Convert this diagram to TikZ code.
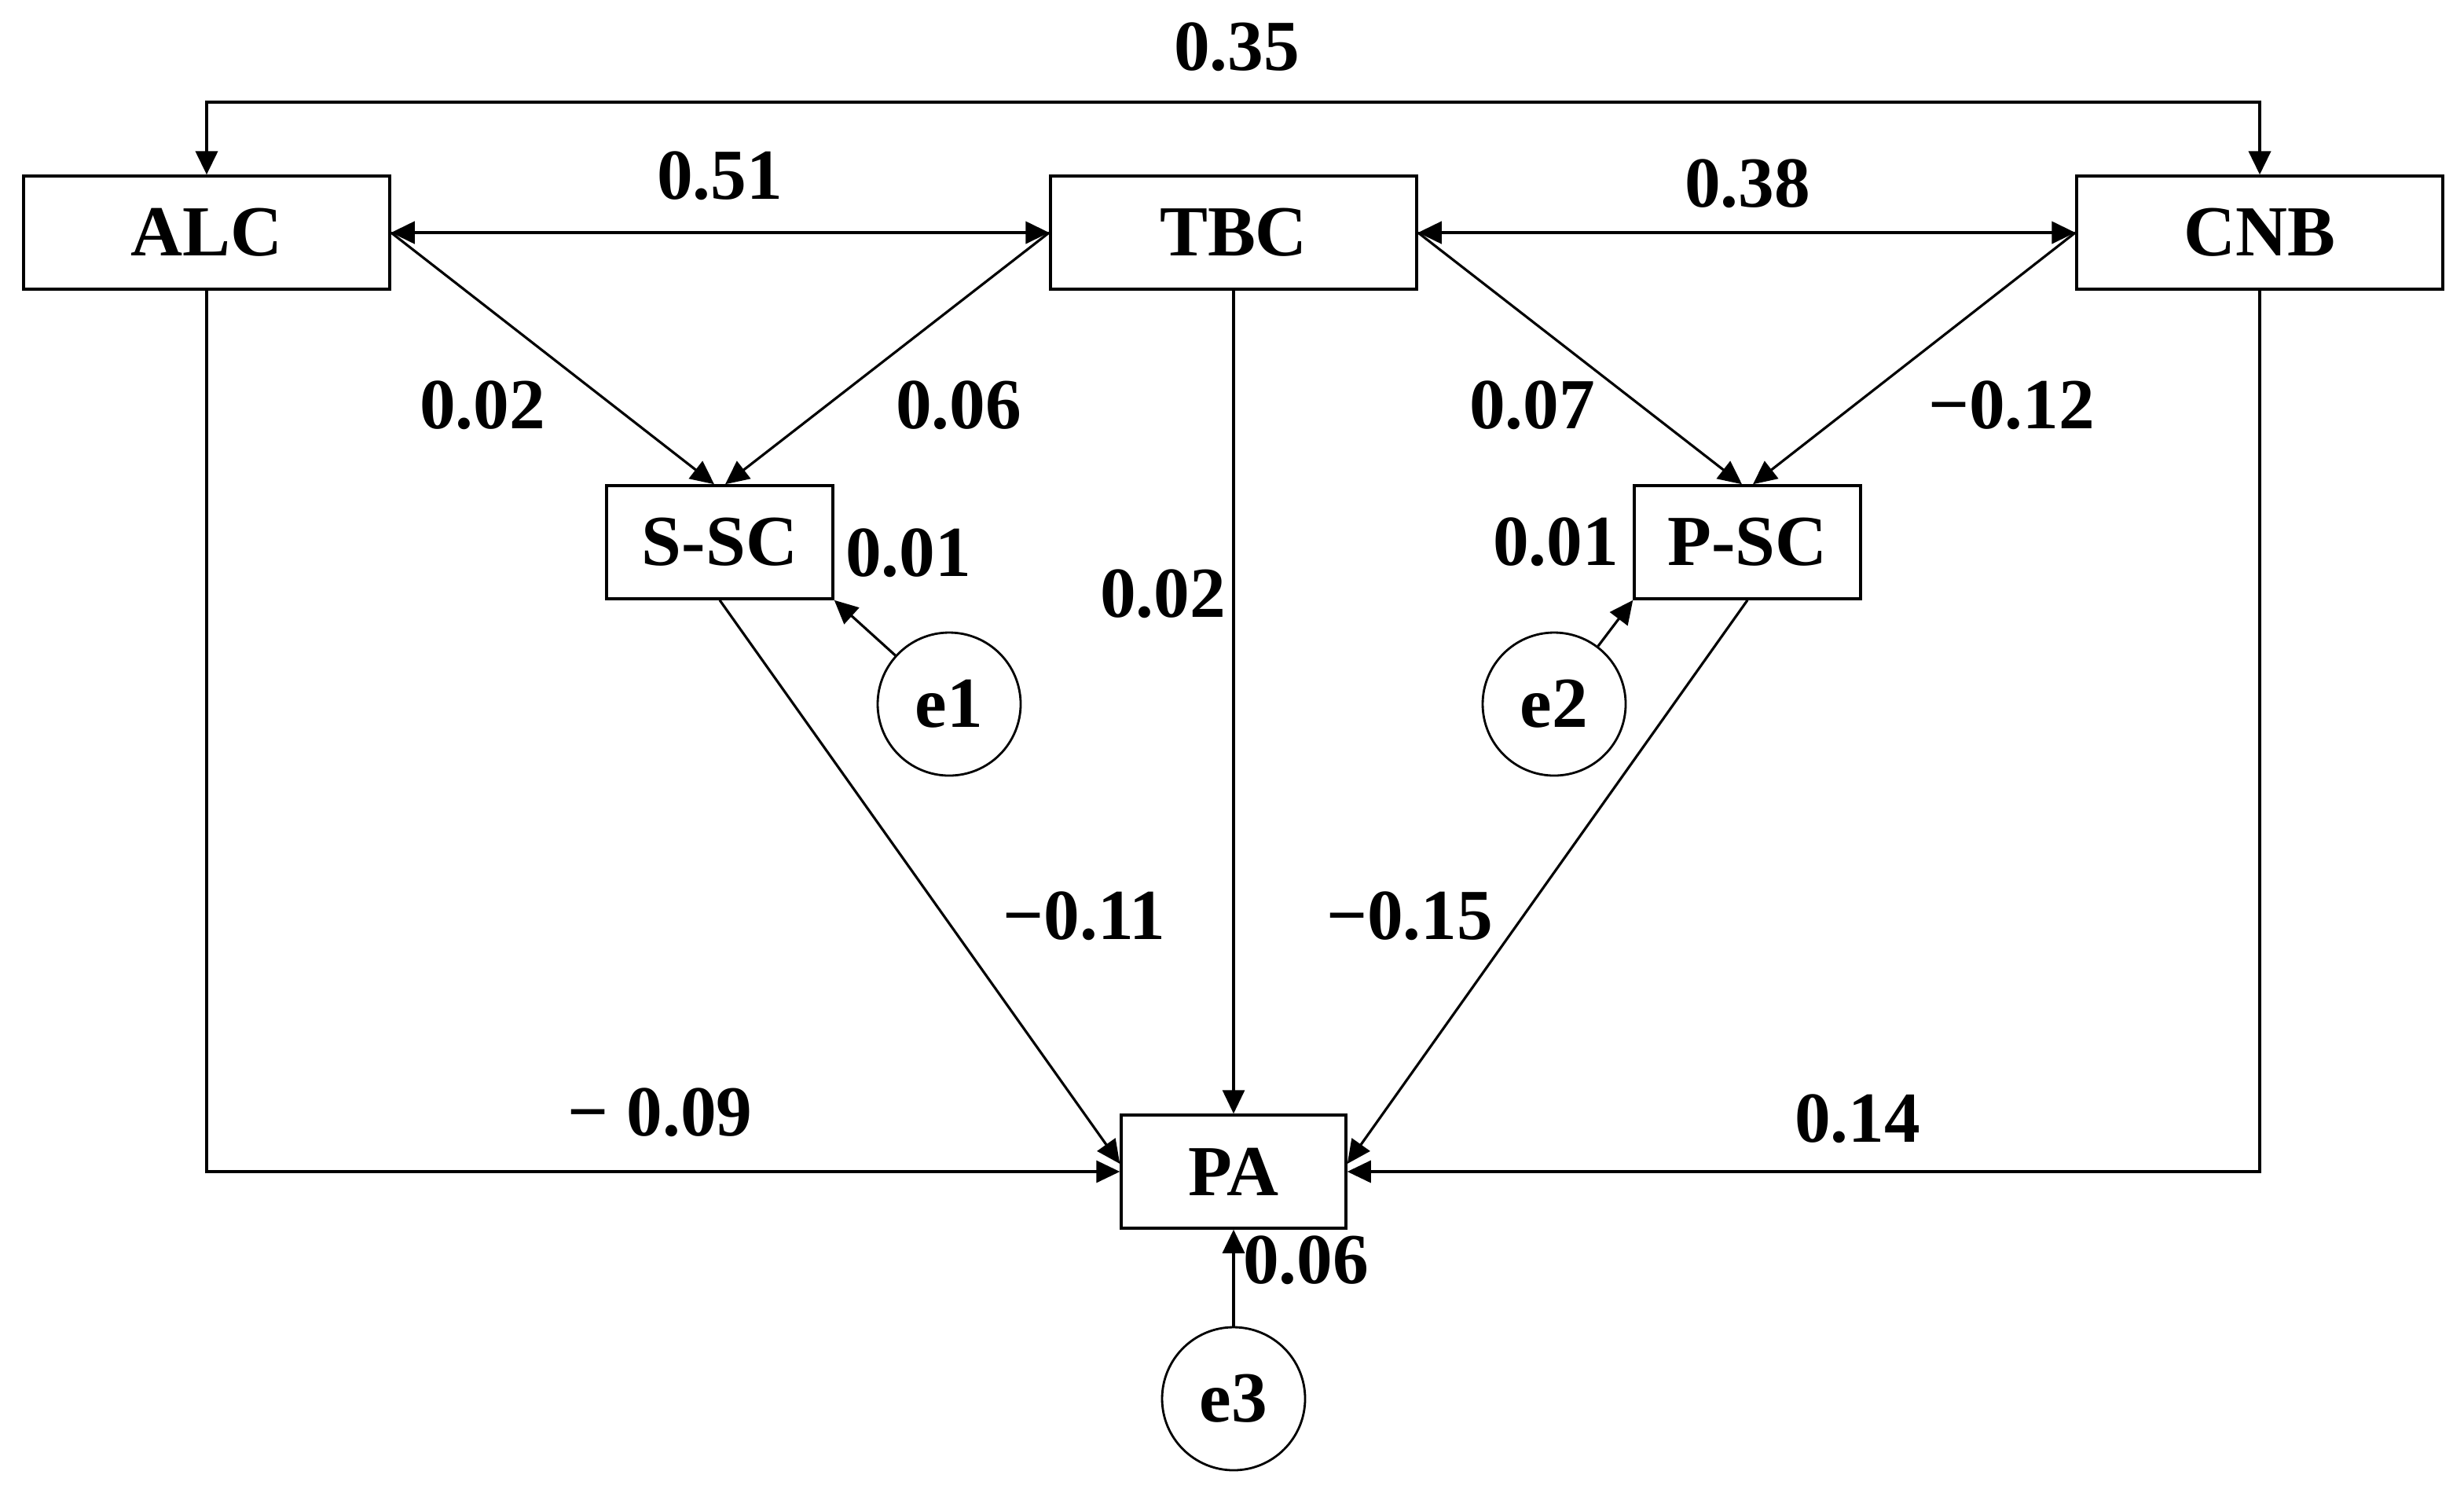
\documentclass[tikz,border=0pt]{standalone}
\usepackage{fontspec}
\setmainfont{Liberation Serif}
\usepackage{tikz}
\usetikzlibrary{positioning, arrows.meta}

\begin{document}
\begin{tikzpicture}[
  box/.style={draw, line width=0.5pt, minimum height=0.72cm, inner sep=0pt,
    font=\fontsize{13}{15}\selectfont\bfseries},
  err/.style={draw, circle, line width=0.4pt, minimum size=0.91cm, inner sep=0pt,
    font=\fontsize{13}{15}\selectfont\bfseries},
  lab/.style={font=\fontsize{13}{15}\selectfont\bfseries, inner sep=0pt},
  arr/.style={line width=0.45pt, -{Triangle[length=0.15cm, width=0.14cm]}},
  dbl/.style={line width=0.6pt, {Triangle[length=0.15cm, width=0.14cm]}-{Triangle[length=0.15cm, width=0.14cm]}}
]
\useasboundingbox (0,0) rectangle (15.68,-9.495);

% Exogenous variables
\node[box, minimum width=2.33cm] (ALC) at (1.315,-1.48) {ALC};
\node[box, minimum width=2.33cm] (TBC) at (7.85,-1.48) {TBC};
\node[box, minimum width=2.33cm] (CNB) at (14.38,-1.48) {CNB};

% Mediators and outcome
\node[box, minimum width=1.44cm] (SSC) at (4.58,-3.45) {S-SC};
\node[box, minimum width=1.44cm] (PSC) at (11.12,-3.45) {P-SC};
\node[box, minimum width=1.43cm] (PA) at (7.85,-7.455) {PA};

% Error terms
\node[err] (e1) at (6.04,-4.48) {e1};
\node[err] (e2) at (9.89,-4.48) {e2};
\node[err] (e3) at (7.85,-8.9) {e3};

% Covariances
\draw[dbl] (ALC.north) -- ++(0,0.46) -| (CNB.north);
\draw[dbl] (ALC) -- (TBC);
\draw[dbl] (TBC) -- (CNB);

% Paths to mediators
\draw[arr] (ALC.east) -- ([xshift=-0.035cm]SSC.north);
\draw[arr] (TBC.west) -- ([xshift=0.035cm]SSC.north);
\draw[arr] (TBC.east) -- ([xshift=-0.035cm]PSC.north);
\draw[arr] (CNB.west) -- ([xshift=0.035cm]PSC.north);

% Paths to PA
\draw[arr] (TBC) -- (PA);
\draw[arr] (ALC.south) |- (PA.west);
\draw[arr] (CNB.south) |- (PA.east);
\draw[arr] (SSC.south) -- ([yshift=0.05cm]PA.west);
\draw[arr] (PSC.south) -- ([yshift=0.05cm]PA.east);

% Error paths
\draw[arr] (e1) -- (SSC.south east);
\draw[arr] (e2) -- (PSC.south west);
\draw[arr] (e3) -- (PA);

% Coefficients
\node[lab] at (7.87,-0.30) {0.35};
\node[lab] at (4.58,-1.12) {0.51};
\node[lab] at (11.12,-1.17) {0.38};
\node[lab] at (3.07,-2.58) {0.02};
\node[lab] at (6.10,-2.58) {0.06};
\node[lab] at (9.75,-2.58) {0.07};
\node[lab] at (12.80,-2.58) {−0.12};
\node[lab] at (5.78,-3.52) {0.01};
\node[lab] at (9.90,-3.45) {0.01};
\node[lab] at (7.40,-3.78) {0.02};
\node[lab] at (6.90,-5.83) {−0.11};
\node[lab] at (8.97,-5.83) {−0.15};
\node[lab] at (4.20,-7.08) {− 0.09};
\node[lab] at (11.82,-7.12) {0.14};
\node[lab] at (8.31,-8.02) {0.06};
\end{tikzpicture}
\end{document}
